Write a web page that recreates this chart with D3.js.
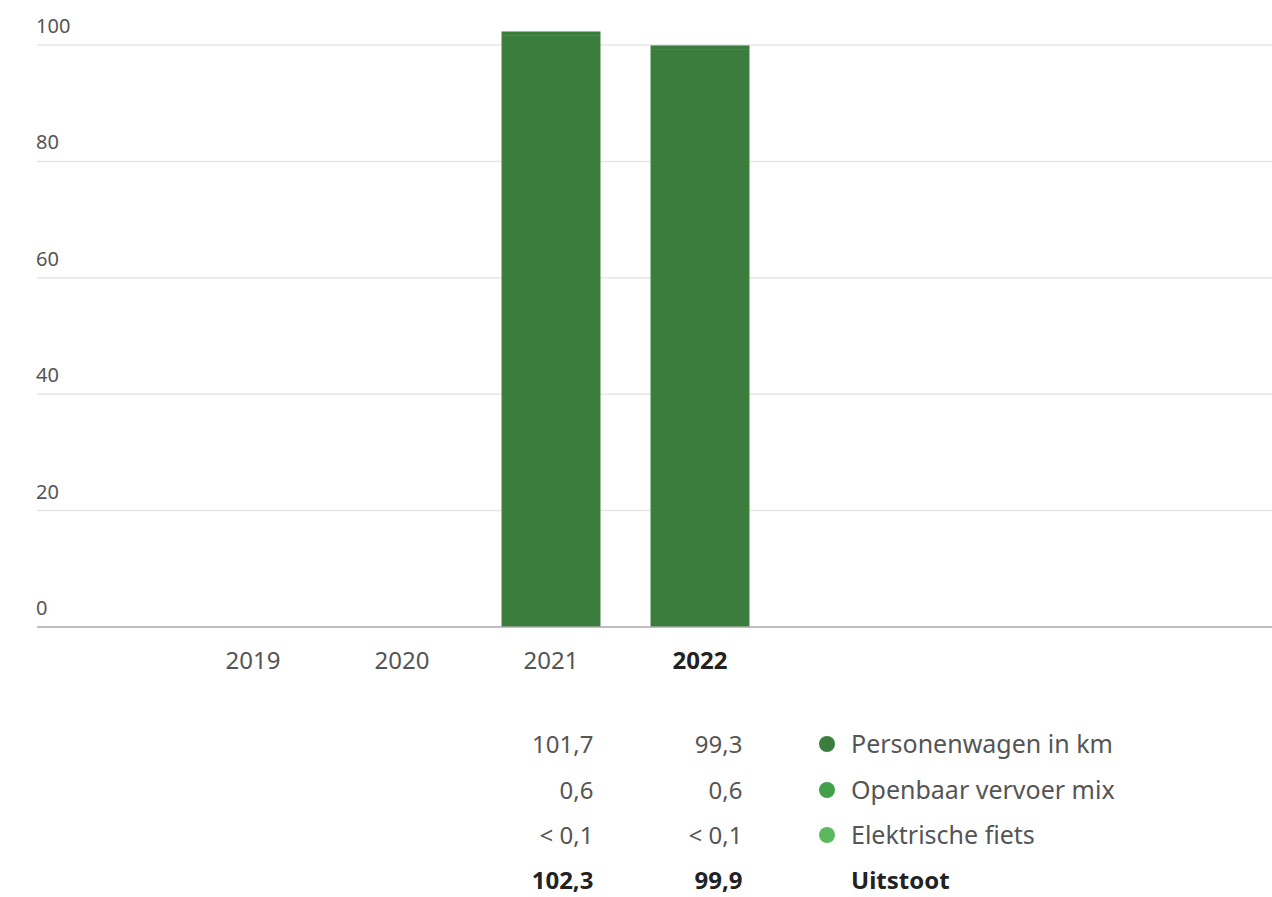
<!DOCTYPE html>
<html><head><meta charset="utf-8">
<script src="https://cdn.jsdelivr.net/npm/d3@7"></script>
<style>
body{margin:0;background:#fff;}
svg{display:block;font-family:"Noto Sans","Open Sans",sans-serif;}
</style></head>
<body><svg id="c" width="1272" height="897"></svg>
<script>
const years = ["2019","2020","2021","2022"];
const seriesNames = ["Personenwagen in km","Openbaar vervoer mix","Elektrische fiets"];
const personenwagen = [null,null,101.7,99.3];
const openbaarVervoer = [null,null,0.6,0.6];
const elektrischeFiets = [null,null,0.04,0.04];
const totals = [null,null,102.3,99.9];
const tableLabels = [
  [null,null,"101,7","99,3"],
  [null,null,"0,6","0,6"],
  [null,null,"< 0,1","< 0,1"]
];
const totalLabel = "Uitstoot";
const yTicks = [0,20,40,60,80,100];
const colors = ["#3a7d3c","#43a04a","#5cb85f"];

const svg = d3.select("#c");
const y = d3.scaleLinear().domain([0,100]).range([627,45]);
const x = d3.scaleBand().domain(years).range([178.5,774.5]).paddingInner(0.336).paddingOuter(0.168);

// grid
const g = svg.append("g");
g.selectAll("line.grid").data(yTicks.filter(d=>d>0)).join("line")
  .attr("x1",37).attr("x2",1272).attr("y1",d=>y(d)).attr("y2",d=>y(d))
  .attr("stroke","#e6e6e6").attr("stroke-width",1.5);
g.selectAll("text.yt").data(yTicks).join("text")
  .attr("x",36).attr("y",d=>y(d)-12).text(d=>d)
  .attr("font-size",20).attr("fill","#555");

// stacked bars
const rows = years.map((yr,i)=>({year:yr, a:personenwagen[i]||0, b:openbaarVervoer[i]||0, c:elektrischeFiets[i]||0}));
const stack = d3.stack().keys(["a","b","c"])(rows);
svg.append("g").selectAll("g").data(stack).join("g").attr("fill",(d,i)=>colors[0])
  .selectAll("rect").data(d=>d).join("rect")
  .attr("x",d=>x(d.data.year)).attr("width",x.bandwidth())
  .attr("y",d=>y(d[1])).attr("height",d=>Math.max(0,y(d[0])-y(d[1])));

// baseline
svg.append("line").attr("x1",37).attr("x2",1272).attr("y1",627).attr("y2",627)
  .attr("stroke","#aaa").attr("stroke-width",1.5);

// x labels
svg.append("g").selectAll("text").data(years).join("text")
  .attr("x",d=>x(d)+x.bandwidth()/2).attr("y",669).attr("text-anchor","middle")
  .attr("font-size",24).attr("fill",(d,i)=>i===years.length-1?"#222":"#555")
  .attr("font-weight",(d,i)=>i===years.length-1?"bold":"normal").text(d=>d);

// table
const rowY = [753,799,844,889];
tableLabels.forEach((row,r)=>{
  row.forEach((t,i)=>{
    if(t===null) return;
    svg.append("text").attr("x",x(years[i])+x.bandwidth()-7).attr("y",rowY[r])
      .attr("text-anchor","end").attr("font-size",24).attr("fill","#555").text(t);
  });
  svg.append("circle").attr("cx",827).attr("cy",rowY[r]-9).attr("r",8).attr("fill",colors[r]);
  svg.append("text").attr("x",851).attr("y",rowY[r]).attr("font-size",25).attr("fill","#555").text(seriesNames[r]);
});
totals.forEach((t,i)=>{
  if(t===null) return;
  svg.append("text").attr("x",x(years[i])+x.bandwidth()-7).attr("y",rowY[3])
    .attr("text-anchor","end").attr("font-size",24).attr("font-weight","bold").attr("fill","#222")
    .text(d3.format(".1f")(t).replace(".",","));
});
svg.append("text").attr("x",851).attr("y",rowY[3]).attr("font-size",24).attr("font-weight","bold").attr("fill","#222").text(totalLabel);
</script></body></html>
